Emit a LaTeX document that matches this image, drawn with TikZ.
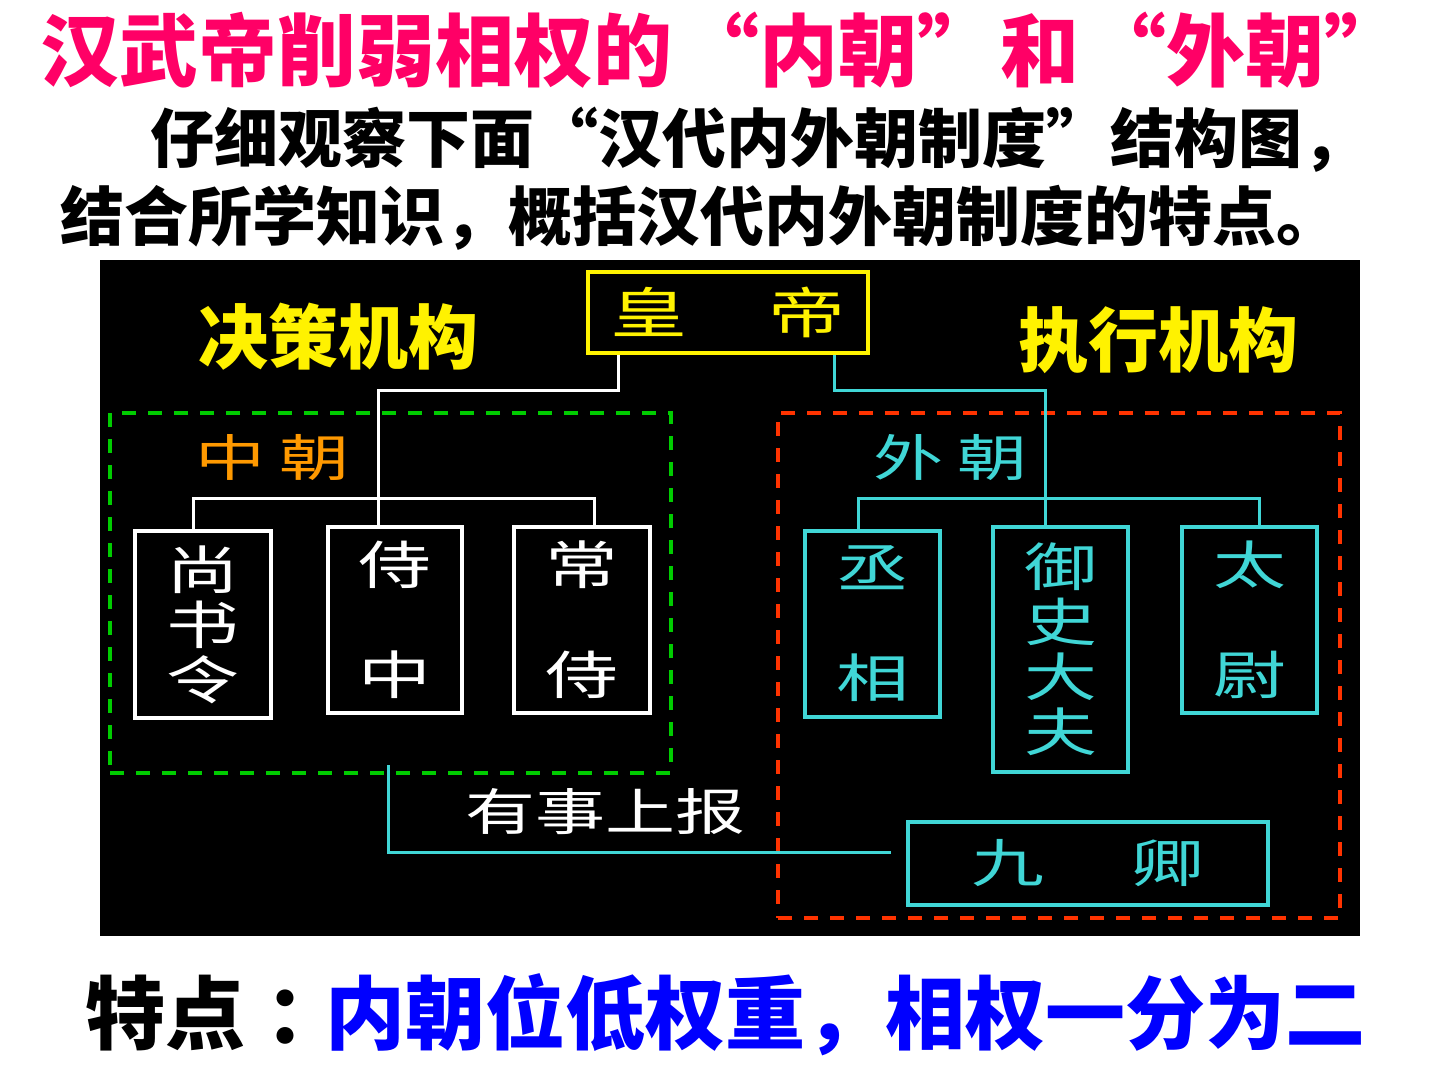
\documentclass[tikz,border=0pt]{standalone}
\usepackage{fontspec}
\newfontfamily\cjk{Noto Sans CJK SC}
\newfontfamily\cjkwide[FakeStretch=1.4]{Noto Sans CJK SC}
\usetikzlibrary{positioning}
\definecolor{titlepink}{RGB}{255,0,102}
\definecolor{pointblue}{RGB}{0,0,255}
\definecolor{waicyan}{RGB}{64,214,214}
\definecolor{zhonggreen}{RGB}{0,204,0}
\definecolor{waired}{RGB}{255,51,0}
\definecolor{zhongorange}{RGB}{255,153,0}
\tikzset{
  heading/.style={anchor=west, inner sep=0pt, font=\cjk\bfseries\fontsize{64}{64}\selectfont},
  office/.style={draw, line width=4pt, inner sep=0pt, align=center,
    font=\cjkwide\fontsize{52}{55}\selectfont},
  court/.style={draw, dash pattern=on 14pt off 12pt, line width=4pt, inner sep=0pt},
  link/.style={line width=3pt},
  thin/.style={inner sep=0pt, font=\cjkwide\fontsize{50}{50}\selectfont}
}
\begin{document}
\begin{tikzpicture}[x=1pt, y=-1pt]
  \useasboundingbox (0,0) rectangle (1440,1080);
  \fill[white] (0,0) rectangle (1440,1080);
  \fill[black] (100,260) rectangle (1360,936);

  % texts %
  \node[heading, text=titlepink, font=\cjk\bfseries\fontsize{79}{79}\selectfont] (title) at (40,50) {汉武帝削弱相权的\hspace{8pt}“内朝”\hspace{4pt}和\hspace{8pt}“外朝”};
  \node[heading] (ask1) at (150,140) {仔细观察下面“汉代内外朝制度”结构图，};
  \node[heading] (ask2) at (60,218) {结合所学知识，概括汉代内外朝制度的特点。};
  \node[heading, font=\cjk\bfseries\fontsize{80}{80}\selectfont] (answer) at (85,1015) {特点\hspace{20pt}：\hspace{-20pt}\textcolor{pointblue}{内朝位低权重，相权一分为二}};

  % courts %
  \node[court, zhonggreen, minimum width=561pt, minimum height=360pt] (zhong) at (390.5,593) {};
  \node[court, waired, minimum width=562pt, minimum height=505pt] (wai) at (1059,665.5) {};
  \node[thin, text=zhongorange] (zhonglbl) at (272,458) {中\hspace{14pt}朝};
  \node[thin, text=waicyan] (wailbl) at (950,458) {外\hspace{14pt}朝};
  \node[heading, anchor=center, text=yellow, font=\cjk\bfseries\fontsize{70}{70}\selectfont] (decide) at (338,337) {决策机构};
  \node[heading, anchor=center, text=yellow, font=\cjk\bfseries\fontsize{70}{70}\selectfont] (execute) at (1158,340) {执行机构};

  % nodes %
  \node[office, yellow, minimum width=280pt, minimum height=81pt, font=\cjkwide\fontsize{55}{55}\selectfont] (hd) at (728,312.5) {皇\hspace{82pt}帝};
  \node[office, white, minimum width=136pt, minimum height=187pt] (ssl) at (203,624.5) {尚\\书\\令};
  \node[office, white, minimum width=134pt, minimum height=186pt] (sz) at (395,620) {侍\\[55pt]中};
  \node[office, white, minimum width=136pt, minimum height=186pt] (cs) at (582,620) {常\\[55pt]侍};
  \node[office, waicyan, minimum width=135pt, minimum height=186pt] (cx) at (872.5,624) {丞\\[55pt]相};
  \node[office, waicyan, minimum width=135pt, minimum height=245pt] (yd) at (1060.5,649.5) {御\\史\\大\\夫};
  \node[office, waicyan, minimum width=135pt, minimum height=186pt] (tw) at (1249.5,620) {太\\[55pt]尉};
  \node[office, waicyan, minimum width=360pt, minimum height=83pt] (jq) at (1088,863.5) {九\hspace{88pt}卿};
  \node[thin, white] (report) at (605,812) {有事上报};
  \coordinate (rep) at (388,765);

  % edges %
  \draw[link, white] ([xshift=32pt]hd.south west) -- ++(0,35) -| ([xshift=-17pt]sz.north);
  \draw[link, white] ([xshift=-10pt]ssl.north) -- ++(0,-31) -| ([xshift=12pt]cs.north);
  \draw[link, waicyan] ([xshift=-36pt]hd.south east) -- ++(0,35) -| ([xshift=-15pt]yd.north);
  \draw[link, waicyan] ([xshift=-14pt]cx.north) -- ++(0,-31) -| ([xshift=10pt]tw.north);
  \draw[link, waicyan] ([xshift=-15pt, yshift=11pt]jq.west) -| (rep);
\end{tikzpicture}
\end{document}
